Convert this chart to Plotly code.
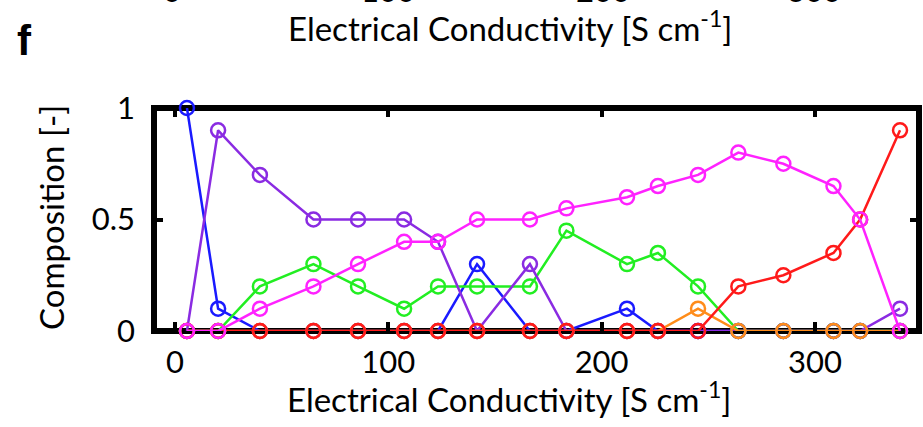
import plotly.graph_objects as go

# Data
conductivity = [5.6, 20.2, 39.8, 64.9, 85.8, 107.4, 123.3, 141.6, 166.4, 183.5,
                211.9, 226.4, 245.2, 264.1, 285.2, 308.7, 321.2, 339.9]
blue    = [1.0, 0.1, 0, 0, 0, 0, 0, 0.3, 0, 0, 0.1, 0, 0, 0, 0, 0, 0, 0]
green   = [0, 0, 0.2, 0.3, 0.2, 0.1, 0.2, 0.2, 0.2, 0.45, 0.3, 0.35, 0.2, 0, 0, 0, 0, 0]
purple  = [0, 0.9, 0.7, 0.5, 0.5, 0.5, 0.4, 0, 0.3, 0, 0, 0, 0, 0, 0, 0, 0, 0.1]
orange  = [0, 0, 0, 0, 0, 0, 0, 0, 0, 0, 0, 0, 0.1, 0, 0, 0, 0, 0]
red     = [0, 0, 0, 0, 0, 0, 0, 0, 0, 0, 0, 0, 0, 0.2, 0.25, 0.35, 0.5, 0.9]
magenta = [0, 0, 0.1, 0.2, 0.3, 0.4, 0.4, 0.5, 0.5, 0.55, 0.6, 0.65, 0.7, 0.8, 0.75, 0.65, 0.5, 0]

x_ticks = [0, 100, 200, 300]
x_ticklabels = ["0", "100", "200", "300"]
y_ticks = [0, 0.5, 1]
y_ticklabels = ["0", "0.5", "1"]

series = [
    (blue, "#1a1aff"),
    (green, "#22ee22"),
    (purple, "#8a2be2"),
    (orange, "#ff8c1a"),
    (red, "#ff1a1a"),
    (magenta, "#ff22ff"),
]

FONT = "Lato"

fig = go.Figure()
for vals, col in series:
    fig.add_trace(go.Scatter(
        x=conductivity, y=vals, mode="lines+markers",
        line=dict(color=col, width=2.5),
        marker=dict(symbol="circle-open", size=14, color=col, line=dict(width=2.5, color=col)),
        cliponaxis=False, showlegend=False, hoverinfo="skip",
    ))

fig.update_layout(
    width=923, height=427,
    margin=dict(l=154, r=4, t=108, b=96, autoexpand=False),
    paper_bgcolor="white", plot_bgcolor="white",
    font=dict(family=FONT, color="black"),
    showlegend=False,
)
fig.update_xaxes(
    range=[-9.85, 348.8], tickvals=x_ticks, ticktext=x_ticklabels, ticks="inside", ticklen=9,
    tickwidth=4, tickcolor="black", mirror="allticks", showline=False, showgrid=False,
    zeroline=False, automargin=False,
    tickfont=dict(family=FONT, size=31, color="black"), ticklabelstandoff=10,
)
fig.update_yaxes(
    range=[0, 1], tickvals=y_ticks, ticktext=y_ticklabels, ticks="inside", ticklen=9,
    tickwidth=4, tickcolor="black", mirror="allticks", showline=False, showgrid=False,
    zeroline=False, automargin=False,
    tickfont=dict(family=FONT, size=31, color="black"), ticklabelstandoff=18,
)

# Frame
fig.add_shape(type="rect", xref="paper", yref="paper", x0=0, x1=1, y0=0, y1=1,
              line=dict(color="black", width=6), layer="below")

def px_to_paper_x(px):
    return (px - 154) / (919 - 154)

def px_to_paper_y(py):
    return (331 - py) / (331 - 108)

# Axis titles
fig.add_annotation(text="Electrical Conductivity [S cm<sup>-1</sup>]", xref="paper", yref="paper",
                   x=px_to_paper_x(509), y=px_to_paper_y(397), showarrow=False,
                   font=dict(family=FONT, size=33, color="black"), xanchor="center", yanchor="middle")
fig.add_annotation(text="Composition [-]", xref="paper", yref="paper",
                   x=px_to_paper_x(51), y=px_to_paper_y(218), showarrow=False, textangle=-90,
                   font=dict(family=FONT, size=33, color="black"), xanchor="center", yanchor="middle")

# Panel label and remnants of the panel above
fig.add_annotation(text="<b>f</b>", xref="paper", yref="paper",
                   x=px_to_paper_x(24), y=px_to_paper_y(40), showarrow=False,
                   font=dict(family="Liberation Sans", size=42, color="black"),
                   xanchor="center", yanchor="middle")
fig.add_annotation(text="Electrical Conductivity [S cm<sup>-1</sup>]", xref="paper", yref="paper",
                   x=px_to_paper_x(510), y=px_to_paper_y(26), showarrow=False,
                   font=dict(family=FONT, size=33, color="black"), xanchor="center", yanchor="middle")
for lbl, cx in zip(x_ticklabels, [172, 388, 603, 814]):
    fig.add_annotation(text=lbl, xref="paper", yref="paper",
                       x=px_to_paper_x(cx), y=px_to_paper_y(11), showarrow=False,
                       font=dict(family=FONT, size=31, color="black"),
                       xanchor="center", yanchor="bottom")

fig.write_html("out.html", config={"displayModeBar": False},
               post_script="document.body.style.margin='0px';")
